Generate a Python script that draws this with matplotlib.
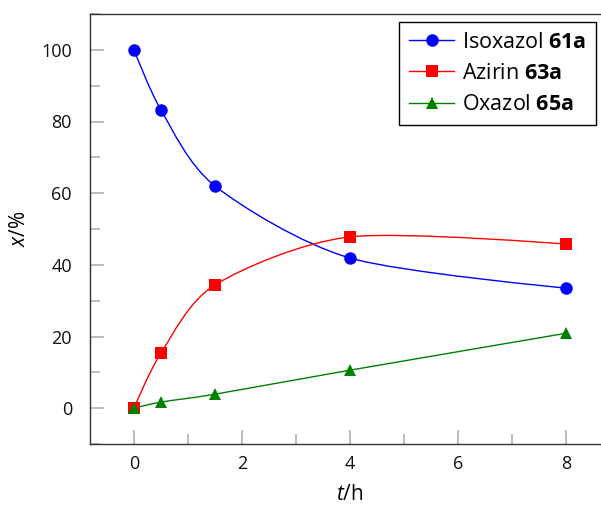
import matplotlib
matplotlib.use("Agg")
import matplotlib.pyplot as plt
from matplotlib.path import Path
from matplotlib.patches import PathPatch
from matplotlib.lines import Line2D
from matplotlib.ticker import MultipleLocator
import numpy as np

plt.rcParams['font.family'] = ['Open Sans', 'DejaVu Sans']
plt.rcParams['mathtext.fontset'] = 'custom'
plt.rcParams['mathtext.rm'] = 'Open Sans'
plt.rcParams['mathtext.it'] = 'Open Sans:italic'
plt.rcParams['mathtext.bf'] = 'Open Sans:bold'

# data
t = [0, 0.5, 1.5, 4, 8]
isoxazol = [100, 83.2, 62.0, 41.9, 33.5]
azirin = [0, 15.4, 34.4, 47.8, 45.8]
oxazol = [0, 1.7, 3.9, 10.6, 20.9]

series = [
    (isoxazol, 'blue', 'o', r'Isoxazol $\mathbf{61a}$'),
    (azirin, 'red', 's', r'Azirin $\mathbf{63a}$'),
    (oxazol, '#008000', '^', r'Oxazol $\mathbf{65a}$'),
]

def smooth_path(x, y, tension=0.14):
    # smooth bezier curve through the points (like tikz "smooth")
    p = np.column_stack([x, y]).astype(float)
    n = len(p)
    verts = [p[0]]
    codes = [Path.MOVETO]
    for i in range(n - 1):
        d0 = p[i + 1] - p[i - 1] if i > 0 else np.zeros(2)
        d1 = p[i + 2] - p[i] if i + 2 < n else np.zeros(2)
        verts += [p[i] + tension * d0, p[i + 1] - tension * d1, p[i + 1]]
        codes += [Path.CURVE4] * 3
    return Path(verts, codes)

fig = plt.figure(figsize=(6.01, 5.09), dpi=100)
ax = fig.add_axes([90 / 601, 65 / 509, 520 / 601, 430 / 509])

handles = []
for vals, col, mk, lab in series:
    ax.add_patch(PathPatch(smooth_path(t, vals), fill=False, edgecolor=col, lw=1.0))
    ax.plot(t, vals, ls='none', marker=mk, color=col, markersize=9, markeredgewidth=0)
    handles.append(Line2D([], [], color=col, lw=1.0, marker=mk, markersize=9,
                          markeredgewidth=0, label=lab))

ax.set_xlim(-0.815, 8.815)
ax.set_ylim(-10, 110)
ax.xaxis.set_major_locator(MultipleLocator(2))
ax.xaxis.set_minor_locator(MultipleLocator(1))
ax.yaxis.set_major_locator(MultipleLocator(20))
ax.yaxis.set_minor_locator(MultipleLocator(10))
ax.tick_params(which='both', direction='in', color='#b0b0b0', width=1.2,
               labelsize=13, labelcolor='#111111', top=False, right=False)
ax.tick_params(axis='x', which='both', pad=8)
ax.tick_params(axis='y', which='both', pad=13)
ax.tick_params(which='major', length=10)
ax.tick_params(which='minor', length=7)
for s in ax.spines.values():
    s.set_color('#333333')
    s.set_linewidth(1.0)

ax.set_xlabel(r'$t$/h', fontsize=15, labelpad=8)
ax.set_ylabel(r'$x$/%', fontsize=15, labelpad=8)

leg = ax.legend(handles=handles, loc='upper right', bbox_to_anchor=(596 / 601, 1 - 22 / 509),
                bbox_transform=fig.transFigure, fontsize=15.5, frameon=True, fancybox=False,
                edgecolor='black', framealpha=1, handlelength=2.1, labelspacing=0.48,
                borderpad=0.45, handletextpad=0.36, borderaxespad=0)
leg.get_frame().set_linewidth(1.0)

fig.savefig('out.png', dpi=100)
